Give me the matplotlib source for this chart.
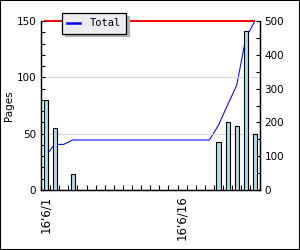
import matplotlib
matplotlib.use("Agg")
import matplotlib.pyplot as plt
import numpy as np

days = ["16'6/1", "16'6/2", "16'6/3", "16'6/4", "16'6/5", "16'6/6", "16'6/7", "16'6/8",
        "16'6/9", "16'6/10", "16'6/11", "16'6/12", "16'6/13", "16'6/14", "16'6/15", "16'6/16",
        "16'6/17", "16'6/18", "16'6/19", "16'6/20", "16'6/21", "16'6/22", "16'6/23", "16'6/24"]
pages = [80, 55, 0, 14, 0, 0, 0, 0, 0, 0, 0, 0, 0, 0, 0, 0, 0, 0, 0, 43, 60, 57, 141, 50]
total = [100, 135, 135, 148, 148, 148, 148, 148, 148, 148, 148, 148, 148, 148, 148, 148,
         148, 148, 148, 192, 252, 310, 450, 500]
limit = 500
shown_labels = ["16'6/1", "16'6/16"]

fig = plt.figure(figsize=(3, 2.5), dpi=100)
fig.patch.set_facecolor("white")
fig.patches.append(plt.Rectangle((0, 0), 1, 1, transform=fig.transFigure, fill=False,
                                 edgecolor="black", linewidth=1.5))
ax = fig.add_axes([41/300, 60/250, 218.5/300, 169/250])
ax2 = ax.twinx()
ax.set_zorder(ax2.get_zorder() + 1)
ax.patch.set_visible(False)

x = np.arange(len(days))
ax.bar(x, pages, width=0.45, color="#b0dde6", edgecolor="black", linewidth=0.8, zorder=3)
ax2.plot(x, total, color="blue", linewidth=0.75, label="Total")
ax2.hlines(limit, x[0] - 0.2, x[-1], color="red", linewidth=1.2, clip_on=False,
           antialiased=False)

ax.set_xlim(-0.5, len(days) - 0.5)
ax.set_ylim(0, 150)
ax2.set_ylim(0, 500)

ax.set_yticks([0, 50, 100, 150])
ax.set_yticks(np.arange(0, 151, 10), minor=True)
ax2.set_yticks([0, 100, 200, 300, 400, 500])
ax2.set_yticks(np.arange(0, 501, 50), minor=True)

pos = [days.index(l) for l in shown_labels]
ax.set_xticks(pos)
ax.set_xticklabels(shown_labels, rotation=90)
ax.set_xticks(np.arange(-0.5, len(days), 1), minor=True)

ax.tick_params(axis="x", which="major", length=0, labelsize=8.5, pad=4)
ax.tick_params(axis="x", which="minor", direction="in", length=3.5, width=0.8)
ax.tick_params(axis="y", which="both", direction="in", length=3, width=0.8, labelsize=7.5)
ax2.tick_params(axis="y", which="both", direction="in", length=3, width=0.8, labelsize=7.5)

ax.set_axisbelow(True)
for gy in [50, 100]:
    ax.axhline(gy, color="#d8d8d8", linewidth=0.8, zorder=0)
for a in (ax, ax2):
    a.spines["top"].set_visible(False)
    for s in ("left", "right", "bottom"):
        a.spines[s].set_linewidth(0.9)

ax.set_ylabel("Pages", fontsize=7.5, labelpad=2)

leg = fig.legend(loc="center", bbox_to_anchor=(94/300, 1 - 23.5/250), fontsize=7.5,
                 frameon=True, fancybox=False, shadow={"color": "#b0b0b0", "alpha": 1},
                 handlelength=1.2, borderpad=0.5, handletextpad=0.9, borderaxespad=0)
leg.get_frame().set_edgecolor("black")
leg.get_frame().set_facecolor("#ececf2")
leg.get_frame().set_linewidth(0.9)
for t in leg.get_texts():
    t.set_family("DejaVu Sans Mono")
for h in leg.get_lines():
    h.set_linewidth(1.8)

fig.savefig("out.png", dpi=100)
